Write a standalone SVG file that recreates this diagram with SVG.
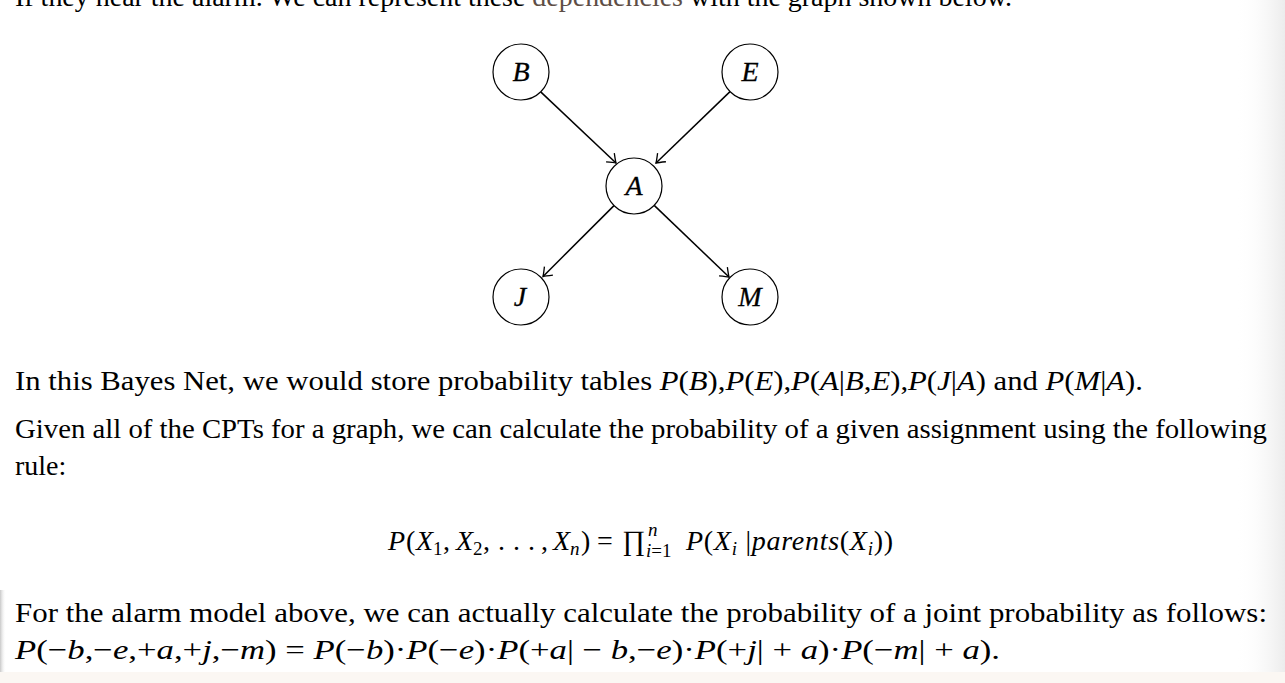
<svg xmlns="http://www.w3.org/2000/svg" width="1285" height="683" viewBox="0 0 1285 683">
<style>
.t{font-family:"Liberation Serif","Times New Roman",serif;font-size:28px;fill:#000}
.i{font-style:italic}
.node circle{fill:#fff;stroke:#000;stroke-width:1.2}
.node text{font-family:"Liberation Serif","Times New Roman",serif;font-size:28px;font-style:italic;text-anchor:middle;stroke:#000;stroke-width:0.3}
.edge{stroke:#000;stroke-width:1.5;fill:none;marker-end:url(#arr)}
.sub{font-size:19px}
</style>
<defs>
<marker id="arr" markerWidth="14" markerHeight="16" refX="0" refY="0" viewBox="-10 -8 12 16" orient="auto" markerUnits="userSpaceOnUse">
<path d="M-8,-6 Q-2,-1.2 0,0 Q-2,1.2 -8,6" fill="none" stroke="#000" stroke-width="1.3"/>
</marker>
<linearGradient id="rg" x1="0" y1="0" x2="1" y2="0">
<stop offset="0" stop-color="#ffffff" stop-opacity="0"/>
<stop offset="1" stop-color="#ececec"/>
</linearGradient>
<linearGradient id="lg" x1="0" y1="0" x2="1" y2="0">
<stop offset="0" stop-color="#c8c8c8"/>
<stop offset="1" stop-color="#ffffff" stop-opacity="0"/>
</linearGradient>
</defs>
<rect width="1285" height="683" fill="#fff"/>
<rect x="1235" y="0" width="50" height="683" fill="url(#rg)"/>
<rect x="0" y="590" width="6" height="82" fill="url(#lg)"/>
<rect x="0" y="672" width="1285" height="11" fill="#fbf7f3"/>

<text class="t" x="15" y="6" textLength="997" lengthAdjust="spacingAndGlyphs">If they hear the alarm. We can represent these <tspan fill="#5e4e46">dependencies</tspan> with the graph shown below.</text>

<g id="connectors">
<line class="edge" x1="540.7" y1="91.9" x2="616" y2="163"/>
<line class="edge" x1="730" y1="91.6" x2="656" y2="163"/>
<line class="edge" x1="614" y1="205.6" x2="543" y2="276.5"/>
<line class="edge" x1="654.2" y1="205.4" x2="729" y2="277"/>
</g>
<g id="node-B" class="node"><circle cx="521" cy="72" r="28"/><text x="521" y="81">B</text></g>
<g id="node-E" class="node"><circle cx="750" cy="72" r="28"/><text x="750" y="81">E</text></g>
<g id="node-A" class="node"><circle cx="634" cy="186" r="28"/><text x="634" y="195">A</text></g>
<g id="node-J" class="node"><circle cx="521" cy="297" r="28"/><text x="520" y="306">J</text></g>
<g id="node-M" class="node"><circle cx="750" cy="297" r="28"/><text x="750" y="306">M</text></g>

<text class="t" x="15" y="390" textLength="1128" lengthAdjust="spacingAndGlyphs">In this Bayes Net, we would store probability tables <tspan class="i">P</tspan>(<tspan class="i">B</tspan>),<tspan class="i">P</tspan>(<tspan class="i">E</tspan>),<tspan class="i">P</tspan>(<tspan class="i">A</tspan>|<tspan class="i">B</tspan>,<tspan class="i">E</tspan>),<tspan class="i">P</tspan>(<tspan class="i">J</tspan>|<tspan class="i">A</tspan>) and <tspan class="i">P</tspan>(<tspan class="i">M</tspan>|<tspan class="i">A</tspan>).</text>
<text class="t" x="15" y="438" textLength="1252" lengthAdjust="spacingAndGlyphs">Given all of the CPTs for a graph, we can calculate the probability of a given assignment using the following</text>
<text class="t" x="15" y="475">rule:</text>

<g id="formula">
<text class="t" y="550"><tspan class="i" x="388">P</tspan><tspan x="406">(</tspan><tspan class="i" x="416">X</tspan><tspan class="sub" x="433" dy="5">1</tspan><tspan x="443" dy="-5">,</tspan><tspan class="i" x="456">X</tspan><tspan class="sub" x="473" dy="5">2</tspan><tspan x="483" dy="-5">,</tspan><tspan x="498">.</tspan><tspan x="513">.</tspan><tspan x="528">.</tspan><tspan x="541">,</tspan><tspan class="i" x="553">X</tspan><tspan class="sub i" x="570" dy="5">n</tspan><tspan x="581" dy="-5">)</tspan></text>
<text class="t" x="597" y="550">=</text>
<text class="t" x="622" y="550" font-size="30">∏</text>
<text class="t i sub" x="648" y="536">n</text>
<text class="t sub" x="646" y="557"><tspan class="i">i</tspan>=1</text>
<text class="t" x="686" y="550" textLength="207" lengthAdjust="spacing"><tspan class="i">P</tspan>(<tspan class="i">X</tspan><tspan class="sub i" dy="5">i</tspan><tspan dy="-5"> |</tspan><tspan class="i">parents</tspan>(<tspan class="i">X</tspan><tspan class="sub i" dy="5">i</tspan><tspan dy="-5">))</tspan></text>
</g>

<text class="t" x="15" y="622" textLength="1252" lengthAdjust="spacingAndGlyphs">For the alarm model above, we can actually calculate the probability of a joint probability as follows:</text>
<text class="t" x="15" y="659" textLength="985" lengthAdjust="spacingAndGlyphs"><tspan class="i">P</tspan>(−<tspan class="i">b</tspan>,−<tspan class="i">e</tspan>,+<tspan class="i">a</tspan>,+<tspan class="i">j</tspan>,−<tspan class="i">m</tspan>) = <tspan class="i">P</tspan>(−<tspan class="i">b</tspan>)·<tspan class="i">P</tspan>(−<tspan class="i">e</tspan>)·<tspan class="i">P</tspan>(+<tspan class="i">a</tspan>| − <tspan class="i">b</tspan>,−<tspan class="i">e</tspan>)·<tspan class="i">P</tspan>(+<tspan class="i">j</tspan>| + <tspan class="i">a</tspan>)·<tspan class="i">P</tspan>(−<tspan class="i">m</tspan>| + <tspan class="i">a</tspan>).</text>
</svg>
